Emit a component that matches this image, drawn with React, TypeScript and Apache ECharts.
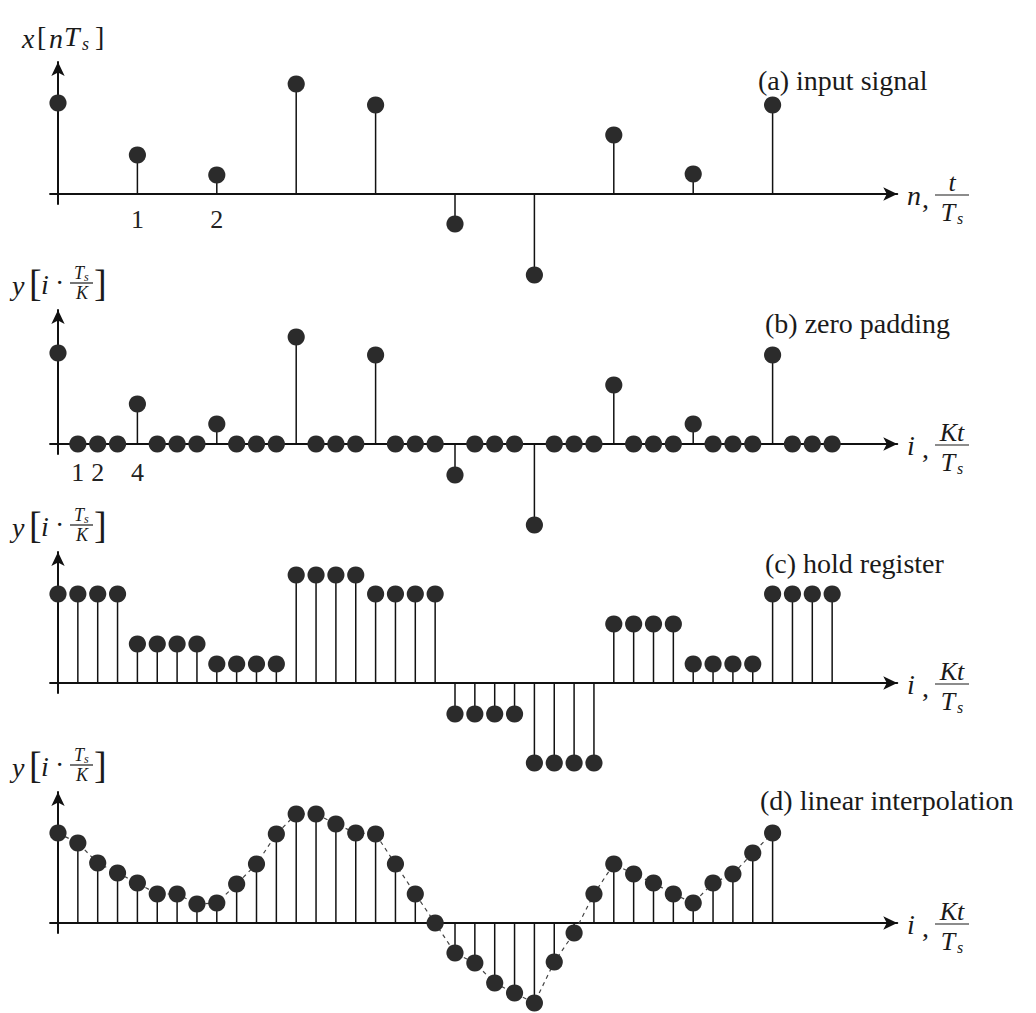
import React, { useEffect, useRef } from "react";
import * as echarts from "echarts";

// ---- data ----
const X_N = [9.1, 3.9, 1.9, 11.0, 8.9, -3.0, -8.1, 5.9, 2.0, 8.9];
const ZERO_PAD = [
  9.1, 0, 0, 0, 4.0, 0, 0, 0, 2.0, 0, 0, 0, 10.7, 0, 0, 0, 8.9, 0, 0, 0,
  -3.1, 0, 0, 0, -8.1, 0, 0, 0, 5.9, 0, 0, 0, 2.0, 0, 0, 0, 8.9, 0, 0, 0,
];
const HOLD = [
  8.9, 8.9, 8.9, 8.9, 3.9, 3.9, 3.9, 3.9, 1.9, 1.9, 1.9, 1.9, 10.8, 10.8, 10.8, 10.8,
  8.9, 8.9, 8.9, 8.9, -3.1, -3.1, -3.1, -3.1, -8.0, -8.0, -8.0, -8.0, 5.9, 5.9, 5.9, 5.9,
  1.9, 1.9, 1.9, 1.9, 8.9, 8.9, 8.9, 8.9,
];
const LINEAR = [
  9.0, 8.0, 6.0, 5.0, 4.0, 2.9, 2.9, 1.9, 2.0, 3.9, 5.9, 8.9, 10.9, 10.9, 9.9, 9.0,
  8.9, 5.9, 2.9, 0.0, -3.0, -4.0, -6.0, -7.0, -8.0, -3.9, -1.0, 2.9, 5.9, 4.9, 4.0,
  2.9, 2.0, 4.0, 4.9, 7.0, 9.0,
];
const TICKS_A = [1, 2];
const TICKS_B = [1, 2, 4];
const TITLES = ["(a) input signal", "(b) zero padding", "(c) hold register", "(d) linear interpolation"];

// ---- layout ----
const BASELINES = [194, 444, 683, 923];
const TIPS = [55, 303, 545, 785];
const X_UNIT = [79.4, 19.85, 19.85, 19.85];
const X_MIN = [-0.1, -0.4, -0.4, -0.4];
const X_MAX = [10.57, 42.28, 42.28, 42.28];
const PX = 10;
const Y_MIN = -1;
const ORIGIN_X = 58;
const SERIF = '"Liberation Serif", "DejaVu Serif", serif';
const INK = "#1a1a1a";
const TITLE_X = [758, 765, 765, 760];
const TITLE_Y = [80, 323, 563, 800];

const pairs = (arr: number[]) => arr.map((v, i) => [i, v]);

const renderStem = (params: any, api: any) => {
  const x = api.value(0);
  const v = api.value(1);
  const p0 = api.coord([x, 0]);
  const p1 = api.coord([x, v]);
  return {
    type: "group",
    children: [
      {
        type: "line",
        shape: { x1: p0[0], y1: p0[1], x2: p1[0], y2: p1[1] },
        style: { stroke: "#111", lineWidth: 1.5 },
      },
      {
        type: "circle",
        shape: { cx: p1[0], cy: p1[1], r: 8.6 },
        style: { fill: "#2b2b2b" },
      },
    ],
  };
};

const txt = (text: string, x: number, y: number, size: number, italic = false, align = "left") => ({
  type: "text",
  silent: true,
  style: {
    text,
    x,
    y,
    font: `${italic ? "italic " : ""}${size}px ${SERIF}`,
    fill: INK,
    align,
    verticalAlign: "middle",
  },
});

const hline = (x1: number, x2: number, y: number) => ({
  type: "line",
  silent: true,
  shape: { x1, y1: y, x2, y2: y },
  style: { stroke: INK, lineWidth: 1.2 },
});

const yLabelA = () => [
  txt("x", 22, 38, 28, true),
  txt("[", 37, 36, 28),
  txt("n", 49, 38, 28, true),
  txt("T", 64, 36, 28, true),
  txt("s", 82, 44, 18, true),
  txt("]", 95, 36, 28),
];

const yLabelFrac = (c: number) => [
  txt("y", 12, c + 2, 28, true),
  txt("[", 29, c, 38),
  txt("i", 41, c + 1, 28, true),
  txt("·", 55, c - 1, 28),
  txt("T", 74, c - 10, 18, true),
  txt("s", 84, c - 6, 12, true),
  hline(70, 93, c),
  txt("K", 76, c + 10, 18, true),
  txt("]", 94, c, 38),
];

const xLabel = (b: number, first: string, num: string) => [
  txt(first, 907, b + 1, 28, true),
  txt(",", 922, b + 4, 28),
  txt(num, 952, b - 12, 26, true, "center"),
  hline(935, 969, b + 1),
  txt("T", 948, b + 18, 26, true, "center"),
  txt("s", 957, b + 24, 16, true),
];

export default function App() {
  const ref = useRef<HTMLDivElement>(null);
  useEffect(() => {
    if (!ref.current) return;
    const chart = echarts.init(ref.current, undefined, { renderer: "svg" });
    const seriesData = [X_N, ZERO_PAD, HOLD, LINEAR];
    const grids: any[] = [];
    const xAxes: any[] = [];
    const yAxes: any[] = [];
    const series: any[] = [];
    for (let p = 0; p < 4; p++) {
      const top = TIPS[p] + 7;
      const yMax = (BASELINES[p] - top) / PX;
      grids.push({
        left: ORIGIN_X + X_MIN[p] * X_UNIT[p],
        width: (X_MAX[p] - X_MIN[p]) * X_UNIT[p],
        top,
        height: (yMax - Y_MIN) * PX,
        containLabel: false,
      });
      const ticks = p === 0 ? TICKS_A : p === 1 ? TICKS_B : null;
      xAxes.push({
        type: "value",
        gridIndex: p,
        min: X_MIN[p],
        max: X_MAX[p],
        axisLine: {
          onZero: true,
          symbol: ["none", "arrow"],
          symbolSize: [10, 14],
          lineStyle: { color: "#111", width: 2 },
        },
        axisTick: { show: false },
        splitLine: { show: false },
        axisLabel: ticks
          ? {
              show: true,
              customValues: ticks,
              fontFamily: SERIF,
              fontSize: 26,
              color: "#222",
              margin: p === 0 ? 2 : 5,
            }
          : { show: false },
      });
      yAxes.push({
        type: "value",
        gridIndex: p,
        min: Y_MIN,
        max: yMax,
        axisLine: {
          show: true,
          onZero: true,
          symbol: ["none", "arrow"],
          symbolSize: [10, 14],
          lineStyle: { color: "#111", width: 2 },
        },
        axisTick: { show: false },
        axisLabel: { show: false },
        splitLine: { show: false },
      });
      if (p === 3) {
        series.push({
          type: "line",
          xAxisIndex: 3,
          yAxisIndex: 3,
          data: pairs(LINEAR),
          symbol: "none",
          clip: false,
          lineStyle: { color: "#444", width: 1.2, type: [4, 4] },
          z: 1,
        });
      }
      series.push({
        type: "custom",
        xAxisIndex: p,
        yAxisIndex: p,
        data: pairs(seriesData[p]),
        encode: { x: 0, y: 1 },
        clip: false,
        renderItem: renderStem,
        z: 3,
      });
    }

    const graphics: any[] = [];
    TITLES.forEach((t, i) => graphics.push(txt(t, TITLE_X[i], TITLE_Y[i], 28)));
    graphics.push(...yLabelA());
    graphics.push(...yLabelFrac(TIPS[1] - 20));
    graphics.push(...yLabelFrac(TIPS[2] - 20));
    graphics.push(...yLabelFrac(TIPS[3] - 20));
    graphics.push(...xLabel(BASELINES[0], "n", "t"));
    graphics.push(...xLabel(BASELINES[1], "i", "Kt"));
    graphics.push(...xLabel(BASELINES[2], "i", "Kt"));
    graphics.push(...xLabel(BASELINES[3], "i", "Kt"));

    chart.setOption({
      animation: false,
      backgroundColor: "#ffffff",
      grid: grids,
      xAxis: xAxes,
      yAxis: yAxes,
      series,
      graphic: graphics,
    });
    return () => chart.dispose();
  }, []);
  return (
    <div
      ref={ref}
      style={{ position: "fixed", left: 0, top: 0, width: 1036, height: 1013, background: "#fff" }}
    />
  );
}
